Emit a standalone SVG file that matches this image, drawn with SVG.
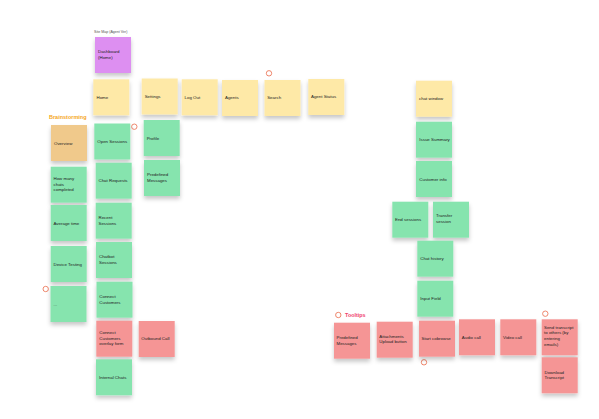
<svg xmlns="http://www.w3.org/2000/svg" width="599" height="419" viewBox="0 0 599 419">
<style>
.n{filter:url(#sh)}
.y{fill:#fee9a7}.g{fill:#86e4ae}.r{fill:#f59595}.p{fill:#dd8ff1}.o{fill:#f0c98b}
text{font-family:"Liberation Sans",Arial,sans-serif;fill:#222;font-size:4.4px}
.h{font-weight:bold;font-size:5.5px}
.c{fill:#fff;stroke:#ec7a5e;stroke-width:0.9}
</style>
<defs>
<filter id="sh" x="-30%" y="-30%" width="160%" height="170%">
<feDropShadow dx="0" dy="3" stdDeviation="2.2" flood-color="#000" flood-opacity="0.22"/>
</filter>
</defs>
<rect width="599" height="419" fill="#fff"/>
<text x="94" y="33" style="font-size:3.6px;fill:#555">Site Map (Agent Ver)</text>
<text class="h" x="49" y="119" style="fill:#f5a623">Brainstorming</text>
<text class="h" x="345" y="317" style="fill:#ef3f6e;font-size:5.4px">Tooltips</text>
<g id="connectors"></g>
<g id="markers">
<circle class="c" cx="269" cy="73.3" r="2.7"/>
<circle class="c" cx="134.3" cy="126.7" r="2.7"/>
<circle class="c" cx="45.7" cy="289" r="2.7"/>
<circle class="c" cx="338.3" cy="315" r="2.7"/>
<circle class="c" cx="424" cy="362.3" r="2.7"/>
<circle class="c" cx="545.3" cy="313.7" r="2.7"/>
</g>
<g id="dashboard"><rect class="n p" x="95" y="37" width="36" height="36"/><text x="98" y="53">Dashboard</text><text x="98" y="58.7">(Home)</text></g>
<g id="home"><rect class="n y" x="93.3" y="79.3" width="36" height="36"/><text x="96.5" y="98.5">Home</text></g>
<g id="settings"><rect class="n y" x="141.7" y="78.5" width="36" height="36"/><text x="144.7" y="97.7">Settings</text></g>
<g id="logout"><rect class="n y" x="181.7" y="79.3" width="36" height="36"/><text x="184.5" y="98.5">Log Out</text></g>
<g id="agents"><rect class="n y" x="222" y="80" width="36" height="36"/><text x="225" y="99">Agents</text></g>
<g id="search"><rect class="n y" x="264.5" y="80" width="36" height="36"/><text x="267.2" y="99">Search</text></g>
<g id="agentstatus"><rect class="n y" x="308.3" y="79" width="36" height="36"/><text x="311" y="98.3">Agent Status</text></g>
<g id="overview"><rect class="n o" x="51" y="125" width="36" height="36"/><text x="54" y="144.5">Overview</text></g>
<g id="howmany"><rect class="n g" x="50.7" y="166.7" width="36" height="36"/><text x="53.5" y="180">How many</text><text x="53.5" y="185.7">chats</text><text x="53.5" y="191.4">completed</text></g>
<g id="avgtime"><rect class="n g" x="50.7" y="205" width="36" height="36"/><text x="53.5" y="224.5">Average time</text></g>
<g id="devicetesting"><rect class="n g" x="50.7" y="246" width="36" height="36"/><text x="53.5" y="265.5">Device Testing</text></g>
<g id="dots"><rect class="n g" x="50.5" y="286" width="36" height="36"/><text x="53.5" y="305.5">...</text></g>
<g id="opensessions"><rect class="n g" x="94.3" y="123.5" width="36" height="36"/><text x="97.3" y="143">Open Sessions</text></g>
<g id="chatrequests"><rect class="n g" x="95.7" y="162.7" width="36" height="36"/><text x="98.5" y="182">Chat Requests</text></g>
<g id="recentsessions"><rect class="n g" x="95.7" y="202.7" width="36" height="36"/><text x="98.5" y="219">Recent</text><text x="98.5" y="224.7">Sessions</text></g>
<g id="chatbotsessions"><rect class="n g" x="96" y="242" width="36" height="36"/><text x="99" y="258.3">Chatbot</text><text x="99" y="264">Sessions</text></g>
<g id="connectcustomers"><rect class="n g" x="96.5" y="281.7" width="36" height="36"/><text x="99.3" y="297.8">Connect</text><text x="99.3" y="303.5">Customers</text></g>
<g id="overlayform"><rect class="n r" x="96.3" y="320.7" width="36" height="36"/><text x="99.3" y="334">Connect</text><text x="99.3" y="339.7">Customers</text><text x="99.3" y="345.4">overlay form</text></g>
<g id="outboundcall"><rect class="n r" x="138.7" y="321" width="36" height="36"/><text x="141.3" y="340.3">Outbound Call</text></g>
<g id="internalchats"><rect class="n g" x="96" y="359.3" width="36" height="36"/><text x="99" y="378.8">Internal Chats</text></g>
<g id="profile"><rect class="n g" x="143.7" y="120" width="36" height="36"/><text x="146.7" y="139.5">Profile</text></g>
<g id="predefined1"><rect class="n g" x="144" y="160" width="36" height="36"/><text x="147" y="176">Predefined</text><text x="147" y="181.7">Messages</text></g>
<g id="chatwindow"><rect class="n y" x="416" y="80.7" width="36" height="36"/><text x="419" y="99.5">chat window</text></g>
<g id="issuesummary"><rect class="n g" x="416" y="121.7" width="36" height="36"/><text x="419.3" y="141">Issue Summary</text></g>
<g id="customerinfo"><rect class="n g" x="416" y="161" width="36" height="36"/><text x="419.3" y="180.5">Customer info</text></g>
<g id="endsessions"><rect class="n g" x="392.3" y="201.7" width="36" height="36"/><text x="395" y="220.7">End sessions</text></g>
<g id="transfersession"><rect class="n g" x="433" y="201.7" width="36" height="36"/><text x="436" y="217">Transfer</text><text x="436" y="222.7">session</text></g>
<g id="chathistory"><rect class="n g" x="417.3" y="240.7" width="36" height="36"/><text x="420.3" y="260.2">Chat history</text></g>
<g id="inputfield"><rect class="n g" x="417.3" y="280.7" width="36" height="36"/><text x="420.3" y="300.2">Input Field</text></g>
<g id="predefined2"><rect class="n r" x="334" y="322.7" width="36" height="36"/><text x="336.5" y="339">Predefined</text><text x="336.5" y="344.7">Messages</text></g>
<g id="attachments"><rect class="n r" x="376.7" y="321.7" width="36" height="36"/><text x="379.3" y="337.7">Attachments</text><text x="379.3" y="343.4">Upload button</text></g>
<g id="cobrowse"><rect class="n r" x="419" y="320.7" width="36" height="36"/><text x="421.5" y="340">Start cobrowse</text></g>
<g id="audiocall"><rect class="n r" x="459" y="319.3" width="36" height="36"/><text x="461.8" y="338.6">Audio call</text></g>
<g id="videocall"><rect class="n r" x="500.3" y="319.3" width="36" height="36"/><text x="503" y="338.6">Video call</text></g>
<g id="sendtranscript"><rect class="n r" x="541.7" y="319.3" width="36" height="36"/><text x="544" y="328.5">Send transcript</text><text x="544" y="334.2">to others (by</text><text x="544" y="339.9">entering</text><text x="544" y="345.6">emails)</text></g>
<g id="downloadtranscript"><rect class="n r" x="541.7" y="357.3" width="36" height="36"/><text x="544.5" y="373.5">Download</text><text x="544.5" y="379.2">Transcript</text></g>
</svg>
